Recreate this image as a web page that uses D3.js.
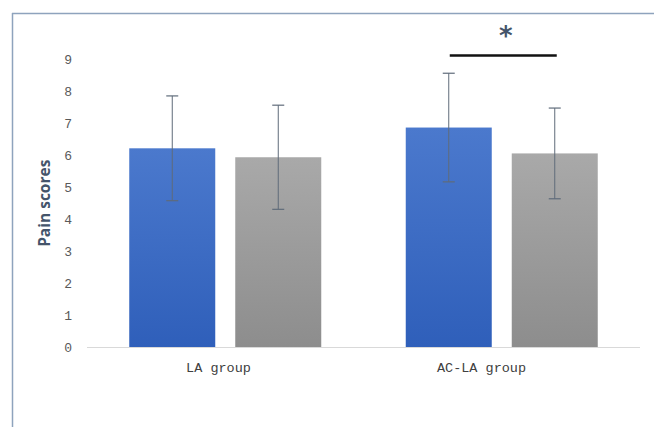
<!DOCTYPE html>
<html>
<head>
<meta charset="utf-8">
<script src="https://cdn.jsdelivr.net/npm/d3@7"></script>
<style>
  html, body { margin: 0; padding: 0; background: #fff; }
  svg { display: block; }
</style>
</head>
<body>
<svg id="chart" width="654" height="427"></svg>
<script>
// Pain scores by group (mean ± SD)
const categories = ["LA group", "AC-LA group"];
const seriesNames = ["Series A", "Series B"];
const meansA = [6.22, 6.87];
const meansB = [5.94, 6.06];
const sdA = [1.64, 1.70];
const sdB = [1.63, 1.42];
const yTicks = [0, 1, 2, 3, 4, 5, 6, 7, 8, 9];
const yLabel = "Pain scores";
const sigLabel = "*";

const svg = d3.select("#chart");
const W = 654, H = 427;

// frame lines (left and top)
svg.append("line").attr("x1", 12.5).attr("x2", 12.5).attr("y1", 13).attr("y2", H)
  .attr("stroke", "#8ea3bd").attr("stroke-width", 1.5);
svg.append("line").attr("x1", 12).attr("x2", W).attr("y1", 13.5).attr("y2", 13.5)
  .attr("stroke", "#8ea3bd").attr("stroke-width", 1.5);

const y = d3.scaleLinear().domain([0, 9]).range([347, 59.5]);

const x0 = d3.scaleBand().domain(categories).range([87, 640]).paddingInner(0).paddingOuter(0);
const xLabel = d3.scaleBand().domain(categories).range([87, 613]);
const barW = 86, gap = 20;

const defs = svg.append("defs");
const gBlue = defs.append("linearGradient").attr("id", "gBlue").attr("x1", 0).attr("x2", 0).attr("y1", 0).attr("y2", 1);
gBlue.append("stop").attr("offset", "0%").attr("stop-color", "#4b79cd");
gBlue.append("stop").attr("offset", "100%").attr("stop-color", "#2f5fba");
const gGray = defs.append("linearGradient").attr("id", "gGray").attr("x1", 0).attr("x2", 0).attr("y1", 0).attr("y2", 1);
gGray.append("stop").attr("offset", "0%").attr("stop-color", "#a9a9a9");
gGray.append("stop").attr("offset", "100%").attr("stop-color", "#8d8d8d");

// y axis tick labels
const yAxis = d3.axisLeft(y).tickValues(yTicks).tickSize(0).tickPadding(0);
const gy = svg.append("g").attr("transform", "translate(72,0)").call(yAxis);
gy.select(".domain").remove();
gy.selectAll("text")
  .attr("font-family", "'Liberation Mono', 'DejaVu Sans Mono', monospace")
  .attr("font-size", 13).attr("fill", "#595959");

// baseline
svg.append("line").attr("x1", 87).attr("x2", 640).attr("y1", y(0) + 0.5).attr("y2", y(0) + 0.5)
  .attr("stroke", "#d9d9d9").attr("stroke-width", 1);

// category labels
const xAxis = d3.axisBottom(xLabel).tickSize(0).tickPadding(0);
const gx = svg.append("g").attr("transform", `translate(0,${y(0) + 15})`).call(xAxis);
gx.select(".domain").remove();
gx.selectAll("text")
  .attr("font-family", "'Liberation Mono', 'DejaVu Sans Mono', monospace")
  .attr("font-size", 13.5).attr("fill", "#404040");

// y axis title
svg.append("text")
  .attr("transform", `translate(50,${(y(0) + y(9)) / 2}) rotate(-90)`)
  .attr("text-anchor", "middle")
  .attr("font-family", "'Open Sans', 'DejaVu Sans', sans-serif")
  .attr("font-weight", "bold").attr("font-size", 15.5)
  .attr("fill", "#44546a")
  .text(yLabel);

const data = categories.map((c, i) => ({
  c,
  bars: [
    { m: meansA[i], sd: sdA[i], fill: "url(#gBlue)", off: -gap / 2 - barW },
    { m: meansB[i], sd: sdB[i], fill: "url(#gGray)", off: gap / 2 }
  ]
}));

const groups = svg.selectAll("g.grp").data(data).join("g").attr("class", "grp");
groups.each(function (d) {
  const cx = x0(d.c) + x0.bandwidth() / 2;
  const g = d3.select(this);
  d.bars.forEach(b => {
    const bx = cx + b.off;
    g.append("rect")
      .attr("x", bx).attr("width", barW)
      .attr("y", y(b.m)).attr("height", y(0) - y(b.m))
      .attr("fill", b.fill);
    const ex = bx + barW / 2;
    g.append("line").attr("x1", ex).attr("x2", ex)
      .attr("y1", y(b.m + b.sd)).attr("y2", y(b.m - b.sd))
      .attr("stroke", "#5f6b7a").attr("stroke-width", 1);
    [b.m + b.sd, b.m - b.sd].forEach(v => {
      g.append("line").attr("x1", ex - 6).attr("x2", ex + 6)
        .attr("y1", y(v)).attr("y2", y(v))
        .attr("stroke", "#5f6b7a").attr("stroke-width", 1.2);
    });
  });
});

// significance bracket over the AC-LA group
const sigCx = x0(categories[1]) + x0.bandwidth() / 2;
svg.append("line")
  .attr("x1", sigCx - 52).attr("x2", sigCx + 55)
  .attr("y1", 55.5).attr("y2", 55.5)
  .attr("stroke", "#111").attr("stroke-width", 2.5);
svg.append("text")
  .attr("x", sigCx + 4).attr("y", 45)
  .attr("text-anchor", "middle")
  .attr("font-family", "'DejaVu Sans', sans-serif")
  .attr("font-weight", "bold").attr("font-size", 26)
  .attr("fill", "#44546a")
  .text(sigLabel);
</script>
</body>
</html>
